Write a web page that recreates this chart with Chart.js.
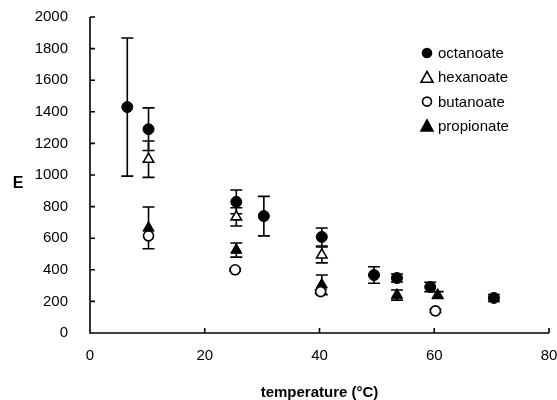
<!DOCTYPE html>
<html>
<head>
<meta charset="utf-8">
<script src="https://cdn.jsdelivr.net/npm/chart.js@4"></script>
<style>
  body { margin: 0; background: #fff; }
  #wrap { width: 557px; height: 400px; }
</style>
</head>
<body>
<div id="wrap"><canvas id="mychart"></canvas></div>
<script>
// data
var seriesNames = ["octanoate", "hexanoate", "butanoate", "propionate"];

var octX = [6.5, 10.2, 25.5, 30.3, 40.4, 49.5, 53.5, 59.3, 70.4];
var octY = [1430, 1290, 830, 740, 608, 367, 348, 291, 222];
var octErr = [437, 135, 75, 125, 57, 52, 25, 30, 22];

var hexX = [10.2, 25.5, 40.4];
var hexY = [1100, 735, 494];
var hexErr = [115, 58, 50];

var butX = [10.2, 25.3, 40.2, 60.2];
var butY = [615, 400, 262, 140];
var butErr = [0, 8, 12, 10];

var propX = [10.2, 25.5, 40.4, 53.5, 60.6];
var propY = [665, 525, 305, 240, 240];
var propErr = [132, 45, 62, 32, 22];

var xTicks = [0, 20, 40, 60, 80];
var yTicks = [0, 200, 400, 600, 800, 1000, 1200, 1400, 1600, 1800, 2000];

var fontFam = '"Liberation Sans", Arial, sans-serif';

function pts(xs, ys) {
  return xs.map(function(x, i) { return { x: x, y: ys[i] }; });
}

// error bars with caps, drawn through the scales
var errorBars = {
  id: 'errorBars',
  beforeDatasetsDraw: function(chart) {
    var ctx = chart.ctx;
    var xs = chart.scales.x, ys = chart.scales.y;
    ctx.save();
    ctx.strokeStyle = '#000';
    ctx.lineWidth = 1.6;
    chart.data.datasets.forEach(function(ds) {
      ds.data.forEach(function(p, i) {
        var e = ds.errors[i];
        if (!e) return;
        var px = xs.getPixelForValue(p.x);
        var top = ys.getPixelForValue(p.y + e);
        var bot = ys.getPixelForValue(p.y - e);
        ctx.beginPath();
        ctx.moveTo(px, top); ctx.lineTo(px, bot);
        ctx.moveTo(px - 6, top); ctx.lineTo(px + 6, top);
        ctx.moveTo(px - 6, bot); ctx.lineTo(px + 6, bot);
        ctx.stroke();
      });
    });
    ctx.restore();
  }
};

// inward tick marks, "E" label, legend box
var extras = {
  id: 'extras',
  afterDraw: function(chart) {
    var ctx = chart.ctx;
    var xs = chart.scales.x, ys = chart.scales.y;
    var a = chart.chartArea;
    ctx.save();
    ctx.strokeStyle = '#000';
    ctx.lineWidth = 1.6;
    ctx.beginPath();
    ctx.moveTo(a.left, a.top); ctx.lineTo(a.left, a.bottom); ctx.lineTo(a.right, a.bottom);
    yTicks.forEach(function(v) {
      var py = ys.getPixelForValue(v);
      ctx.moveTo(a.left, py); ctx.lineTo(a.left + 5, py);
    });
    xTicks.forEach(function(v) {
      var px = xs.getPixelForValue(v);
      ctx.moveTo(px, a.bottom); ctx.lineTo(px, a.bottom - 5);
    });
    ctx.stroke();

    ctx.fillStyle = '#000';
    ctx.font = 'bold 16px ' + fontFam;
    ctx.textAlign = 'center';
    ctx.textBaseline = 'middle';
    ctx.fillText('E', 18, 184);

    // legend
    ctx.font = '15px ' + fontFam;
    ctx.textAlign = 'left';
    chart.data.datasets.forEach(function(ds, i) {
      var y = 53 + i * 24.3;
      var cx = 427;
      ctx.fillStyle = ds.backgroundColor;
      ctx.strokeStyle = '#000';
      ctx.lineWidth = 1.6;
      ctx.beginPath();
      if (ds.pointStyle === 'circle') {
        ctx.arc(cx, y, 4.5, 0, Math.PI * 2);
      } else {
        ctx.moveTo(cx, y - 6); ctx.lineTo(cx + 6, y + 5); ctx.lineTo(cx - 6, y + 5); ctx.closePath();
      }
      ctx.fill(); ctx.stroke();
      ctx.fillStyle = '#000';
      ctx.fillText(ds.label, 438, y + 1);
    });
    ctx.restore();
  }
};

var context = document.getElementById("mychart").getContext("2d");
var chart = new Chart(context, {
  type: 'scatter',
  data: {
    datasets: [
      { label: seriesNames[0], data: pts(octX, octY), errors: octErr,
        pointStyle: 'circle', pointRadius: 5.5, backgroundColor: '#000', borderColor: '#000', borderWidth: 1 },
      { label: seriesNames[1], data: pts(hexX, hexY), errors: hexErr,
        pointStyle: 'triangle', pointRadius: 6, backgroundColor: '#fff', borderColor: '#000', borderWidth: 1.6 },
      { label: seriesNames[2], data: pts(butX, butY), errors: butErr,
        pointStyle: 'circle', pointRadius: 5, backgroundColor: '#fff', borderColor: '#000', borderWidth: 1.6 },
      { label: seriesNames[3], data: pts(propX, propY), errors: propErr,
        pointStyle: 'triangle', pointRadius: 6.5, backgroundColor: '#000', borderColor: '#000', borderWidth: 1 }
    ]
  },
  options: {
    responsive: true,
    maintainAspectRatio: false,
    animation: false,
    events: [],
    layout: { padding: { top: 17, right: 8, left: 0, bottom: 0 } },
    plugins: { legend: { display: false }, tooltip: { enabled: false } },
    scales: {
      x: {
        type: 'linear', min: 0, max: 80,
        afterBuildTicks: function(s) { s.ticks = xTicks.map(function(v) { return { value: v }; }); },
        afterFit: function(s) { s.height = 67; s.paddingLeft = 0; s.paddingRight = 0; },
        grid: { display: false, drawTicks: false },
        border: { display: false },
        ticks: { color: '#000', padding: 14, maxRotation: 0,
          callback: function(v) { return String(v); },
          font: { family: fontFam, size: 15 } },
        title: { display: true, text: 'temperature (°C)', color: '#000', padding: { top: 10, bottom: -2 },
          font: { family: fontFam, size: 15, weight: 'bold' } }
      },
      y: {
        type: 'linear', min: 0, max: 2000,
        afterBuildTicks: function(s) { s.ticks = yTicks.map(function(v) { return { value: v }; }); },
        afterFit: function(s) { s.width = 90; s.paddingTop = 0; s.paddingBottom = 0; },
        grid: { display: false, drawTicks: false },
        border: { display: false },
        ticks: { color: '#000', padding: 22,
          callback: function(v) { return String(v); },
          font: { family: fontFam, size: 15 } }
      }
    }
  },
  plugins: [errorBars, extras]
});
</script>
</body>
</html>
